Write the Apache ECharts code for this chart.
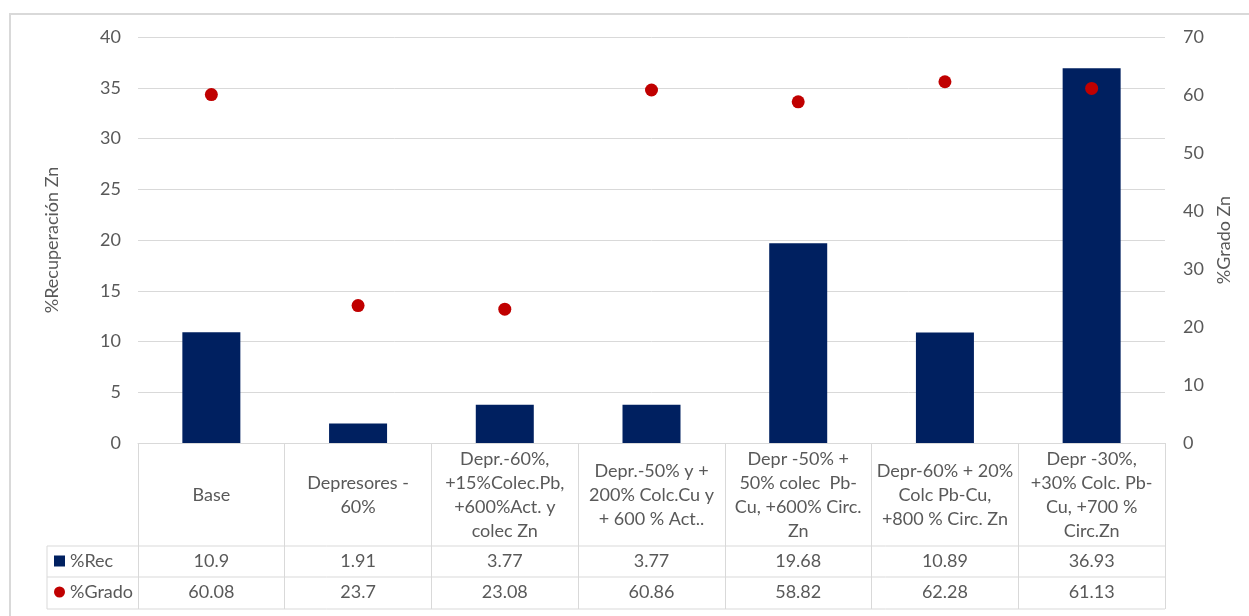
<!DOCTYPE html>
<html>
<head>
<meta charset="utf-8">
<script src="https://cdn.jsdelivr.net/npm/echarts@6/dist/echarts.min.js"></script>
<style>
  html, body { margin: 0; padding: 0; background: #ffffff; }
  #chart { width: 1249px; height: 616px; }
</style>
</head>
<body>
<div id="chart"></div>
<script>
// Flotation test conditions (wrapped as they appear in the table header)
const categories = [
  'Base',
  'Depresores -\n60%',
  'Depr.-60%,\n+15%Colec.Pb,\n+600%Act. y\ncolec Zn',
  'Depr.-50% y +\n200% Colc.Cu y\n+ 600 % Act..',
  'Depr -50% +\n50% colec  Pb-\nCu, +600% Circ.\nZn',
  'Depr-60% + 20%\nColc Pb-Cu,\n+800 % Circ. Zn',
  'Depr -30%,\n+30% Colc. Pb-\nCu, +700 %\nCirc.Zn'
];
// Zn recovery (%) and Zn grade (%)
const recValues = [10.9, 1.91, 3.77, 3.77, 19.68, 10.89, 36.93];
const gradoValues = [60.08, 23.7, 23.08, 60.86, 58.82, 62.28, 61.13];
const recTicks = [0, 40, 5];    // min, max, step
const gradoTicks = [0, 70, 10];

const FONT = 'Lato';
const FS = 18;
const TXT = '#595959';
const LINE = '#d9d9d9';
const BAR = '#002060';
const DOT = '#c00000';

// plot frame
const G = { left: 138, right: 84, top: 37, bottom: 173 };
const W = 1249, H = 616;
const plotRight = W - G.right;
const axisY = H - G.bottom;
const headerBottom = 546, row1Bottom = 577, row2Bottom = 609;
const tableLeft = 47;

const chart = echarts.init(document.getElementById('chart'), null, { renderer: 'canvas' });

function rowAxis(labels, offset) {
  return {
    type: 'category',
    data: categories,
    position: 'bottom',
    offset: offset,
    axisLine: { show: false },
    axisTick: { show: false },
    axisLabel: {
      interval: 0,
      margin: 0,
      verticalAlign: 'middle',
      color: TXT,
      fontFamily: FONT,
      fontSize: FS,
      formatter: (v, i) => String(labels[i])
    }
  };
}

chart.setOption({
  backgroundColor: '#ffffff',
  animation: false,
  grid: G,
  legend: {
    orient: 'vertical',
    left: 54,
    top: 552,
    padding: 0,
    itemWidth: 11,
    itemHeight: 11,
    itemGap: 13,
    textStyle: { color: TXT, fontFamily: FONT, fontSize: FS, lineHeight: 18 },
    data: [
      { name: '%Rec', icon: 'rect' },
      { name: '%Grado', icon: 'circle' }
    ]
  },
  xAxis: [
    {
      type: 'category',
      data: categories,
      position: 'bottom',
      axisLine: { show: true, lineStyle: { color: LINE, width: 1 } },
      axisTick: { show: true, length: row2Bottom - axisY, lineStyle: { color: LINE, width: 1 } },
      axisLabel: {
        interval: 0,
        margin: 52,
        verticalAlign: 'middle',
        color: TXT,
        fontFamily: FONT,
        fontSize: FS,
        lineHeight: 24,
        align: 'center'
      }
    },
    rowAxis(recValues, 118),
    rowAxis(gradoValues, 149)
  ],
  yAxis: [
    {
      type: 'value',
      min: recTicks[0], max: recTicks[1], interval: recTicks[2],
      name: '%Recuperación Zn',
      nameLocation: 'middle',
      nameGap: 77,
      nameTextStyle: { color: TXT, fontFamily: FONT, fontSize: FS },
      axisLine: { show: false },
      axisTick: { show: false },
      axisLabel: { color: TXT, fontFamily: FONT, fontSize: FS, margin: 17 },
      splitLine: { lineStyle: { color: LINE, width: 1 } }
    },
    {
      type: 'value',
      min: gradoTicks[0], max: gradoTicks[1], interval: gradoTicks[2],
      name: '%Grado Zn',
      nameLocation: 'middle',
      nameGap: 48,
      nameTextStyle: { color: TXT, fontFamily: FONT, fontSize: FS },
      axisLine: { show: false },
      axisTick: { show: false },
      axisLabel: { color: TXT, fontFamily: FONT, fontSize: FS, margin: 18 },
      splitLine: { show: false }
    }
  ],
  series: [
    {
      name: '%Rec',
      type: 'bar',
      data: recValues,
      xAxisIndex: 0,
      yAxisIndex: 0,
      barWidth: 58,
      itemStyle: { color: BAR }
    },
    {
      name: '%Grado',
      type: 'scatter',
      data: gradoValues,
      xAxisIndex: 0,
      yAxisIndex: 1,
      symbol: 'circle',
      symbolSize: 13,
      itemStyle: { color: DOT, opacity: 1 }
    }
  ],
  graphic: [
    // chart area border
    { type: 'rect', shape: { x: 10, y: 14, width: 1400, height: 800 },
      style: { fill: null, stroke: LINE, lineWidth: 2 }, silent: true },
    // data table rules
    { type: 'line', shape: { x1: tableLeft, y1: headerBottom, x2: plotRight, y2: headerBottom },
      style: { stroke: LINE, lineWidth: 1 }, silent: true },
    { type: 'line', shape: { x1: tableLeft, y1: row1Bottom, x2: plotRight, y2: row1Bottom },
      style: { stroke: LINE, lineWidth: 1 }, silent: true },
    { type: 'line', shape: { x1: tableLeft, y1: row2Bottom, x2: plotRight, y2: row2Bottom },
      style: { stroke: LINE, lineWidth: 1 }, silent: true },
    { type: 'line', shape: { x1: tableLeft, y1: headerBottom, x2: tableLeft, y2: row2Bottom },
      style: { stroke: LINE, lineWidth: 1 }, silent: true }
  ]
});
</script>
</body>
</html>
